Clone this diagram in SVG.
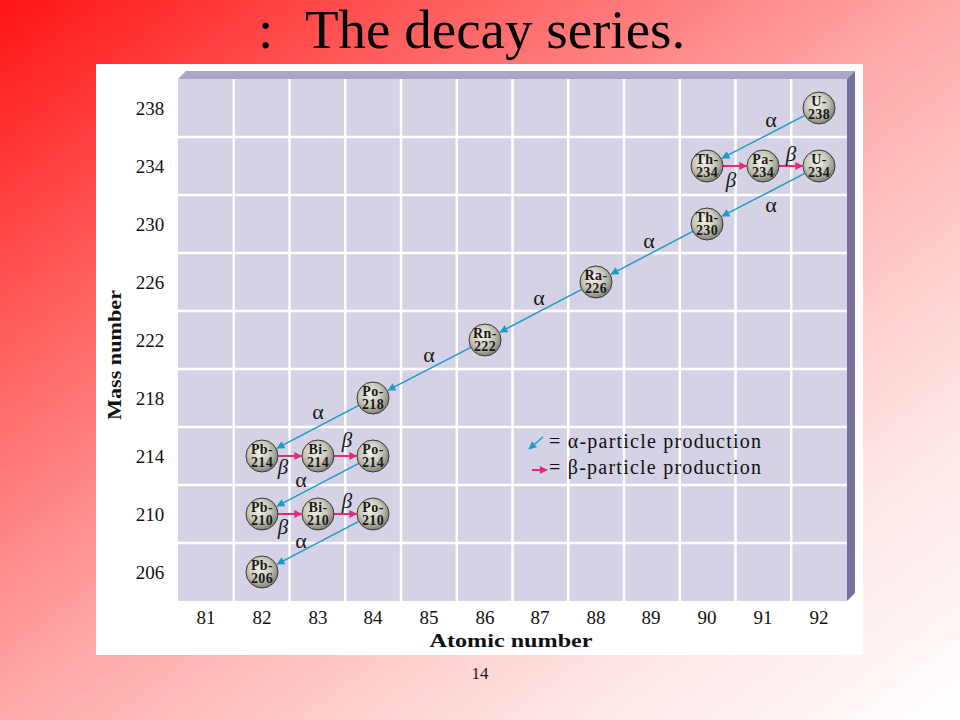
<svg xmlns="http://www.w3.org/2000/svg" width="960" height="720" viewBox="0 0 960 720">
<defs>
<linearGradient id="bg" x1="0" y1="0" x2="1" y2="1">
<stop offset="0" stop-color="#ff1414"/>
<stop offset="0.25" stop-color="#ff6262"/>
<stop offset="0.5" stop-color="#ffaaaa"/>
<stop offset="0.78" stop-color="#ffe4e4"/>
<stop offset="1" stop-color="#ffffff"/>
</linearGradient>
<radialGradient id="ball" cx="0.42" cy="0.38" r="0.62">
<stop offset="0" stop-color="#f4f3ea"/>
<stop offset="0.55" stop-color="#c9c8bb"/>
<stop offset="1" stop-color="#85847a"/>
</radialGradient>
<marker id="ha" viewBox="0 0 10 10" refX="9" refY="5" markerWidth="10" markerHeight="8" markerUnits="userSpaceOnUse" orient="auto">
<path d="M0,0 L10,5 L0,10 z" fill="#1e9cc8"/>
</marker>
<marker id="hb" viewBox="0 0 10 10" refX="9" refY="5" markerWidth="10" markerHeight="8" markerUnits="userSpaceOnUse" orient="auto">
<path d="M0,0 L10,5 L0,10 z" fill="#e22a7f"/>
</marker>
<style>
.tick{font-family:"Liberation Serif",serif;font-size:19px;fill:#111;text-anchor:middle}
.ax{font-family:"Liberation Serif",serif;font-size:19px;font-weight:bold;fill:#111;text-anchor:middle}
.nd circle{fill:url(#ball);stroke:#3a3a36;stroke-width:1}
.nd text{font-family:"Liberation Serif",serif;font-size:14px;font-weight:bold;fill:#1a1a1a;text-anchor:middle;letter-spacing:0.4px}
.a{stroke:#1e9cc8;stroke-width:1.5;fill:none;marker-end:url(#ha)}
.b{stroke:#e22a7f;stroke-width:2;fill:none;marker-end:url(#hb)}
.al{font-family:"Liberation Serif",serif;font-size:22px;fill:#1a1a1a;text-anchor:middle}
.bl{font-family:"Liberation Serif",serif;font-size:21px;font-style:italic;fill:#1a1a1a;text-anchor:middle}
.gl{stroke:#ffffff;stroke-width:2.5}
.lg{font-family:"Liberation Serif",serif;font-size:20px;fill:#111}
</style>
</defs>
<rect width="960" height="720" fill="url(#bg)"/>
<text x="258" y="48" font-family="Liberation Serif,serif" font-size="55" fill="#000">:<tspan x="305">The decay series.</tspan></text>
<rect x="96" y="64" width="767" height="591" fill="#ffffff"/>
<g id="chart">
<polygon points="178,79 186,71 855,71 847,79" fill="#aba6c9"/>
<polygon points="847,79 855,71 855,593 847,601" fill="#77709f"/>
<rect x="178" y="79" width="669" height="522" fill="#d4d2e4"/>
<g class="gl">
<line x1="233.75" y1="79" x2="233.75" y2="601"/>
<line x1="289.5" y1="79" x2="289.5" y2="601"/>
<line x1="345.25" y1="79" x2="345.25" y2="601"/>
<line x1="401" y1="79" x2="401" y2="601"/>
<line x1="456.75" y1="79" x2="456.75" y2="601"/>
<line x1="512.5" y1="79" x2="512.5" y2="601"/>
<line x1="568.25" y1="79" x2="568.25" y2="601"/>
<line x1="624" y1="79" x2="624" y2="601"/>
<line x1="679.75" y1="79" x2="679.75" y2="601"/>
<line x1="735.5" y1="79" x2="735.5" y2="601"/>
<line x1="791.25" y1="79" x2="791.25" y2="601"/>
<line x1="178" y1="137" x2="847" y2="137"/>
<line x1="178" y1="195" x2="847" y2="195"/>
<line x1="178" y1="253" x2="847" y2="253"/>
<line x1="178" y1="311" x2="847" y2="311"/>
<line x1="178" y1="369" x2="847" y2="369"/>
<line x1="178" y1="427" x2="847" y2="427"/>
<line x1="178" y1="485" x2="847" y2="485"/>
<line x1="178" y1="543" x2="847" y2="543"/>
</g>
</g>
<g id="y-axis">
<text class="tick" x="150" y="115">238</text>
<text class="tick" x="150" y="173">234</text>
<text class="tick" x="150" y="231">230</text>
<text class="tick" x="150" y="289">226</text>
<text class="tick" x="150" y="347">222</text>
<text class="tick" x="150" y="405">218</text>
<text class="tick" x="150" y="463">214</text>
<text class="tick" x="150" y="521">210</text>
<text class="tick" x="150" y="579">206</text>
<text class="ax" transform="translate(121,355) rotate(-90)" textLength="130" lengthAdjust="spacingAndGlyphs">Mass number</text>
</g>
<g id="x-axis">
<text class="tick" x="206" y="624">81</text>
<text class="tick" x="262" y="624">82</text>
<text class="tick" x="318" y="624">83</text>
<text class="tick" x="373" y="624">84</text>
<text class="tick" x="429" y="624">85</text>
<text class="tick" x="485" y="624">86</text>
<text class="tick" x="540" y="624">87</text>
<text class="tick" x="596" y="624">88</text>
<text class="tick" x="651" y="624">89</text>
<text class="tick" x="707" y="624">90</text>
<text class="tick" x="763" y="624">91</text>
<text class="tick" x="819" y="624">92</text>
<text class="ax" x="511" y="647" textLength="163" lengthAdjust="spacingAndGlyphs">Atomic number</text>
</g>
<g id="connectors">
<line class="a" x1="804.8" y1="115.4" x2="722.1" y2="158.2"/>
<line class="a" x1="804.8" y1="173.4" x2="722.1" y2="216.2"/>
<line class="a" x1="692.8" y1="231.4" x2="611.1" y2="274.1"/>
<line class="a" x1="581.8" y1="289.4" x2="500.1" y2="332.1"/>
<line class="a" x1="470.8" y1="347.4" x2="388.1" y2="390.2"/>
<line class="a" x1="358.8" y1="405.4" x2="277.1" y2="448.1"/>
<line class="a" x1="358.8" y1="463.4" x2="277.1" y2="506.1"/>
<line class="a" x1="358.8" y1="521.4" x2="277.1" y2="564.1"/>
<line class="b" x1="723" y1="166" x2="746.5" y2="166"/>
<line class="b" x1="779" y1="166" x2="802.5" y2="166"/>
<line class="b" x1="278" y1="456" x2="301.5" y2="456"/>
<line class="b" x1="334" y1="456" x2="356.5" y2="456"/>
<line class="b" x1="278" y1="514" x2="301.5" y2="514"/>
<line class="b" x1="334" y1="514" x2="356.5" y2="514"/>
<text class="al" x="771" y="127">α</text>
<text class="al" x="771" y="212">α</text>
<text class="al" x="649" y="248">α</text>
<text class="al" x="539" y="305">α</text>
<text class="al" x="429" y="362">α</text>
<text class="al" x="318" y="419">α</text>
<text class="al" x="301" y="487">α</text>
<text class="al" x="301" y="548">α</text>
<text class="bl" x="731" y="187">β</text>
<text class="bl" x="791" y="161">β</text>
<text class="bl" x="283" y="474">β</text>
<text class="bl" x="347" y="447">β</text>
<text class="bl" x="283" y="534">β</text>
<text class="bl" x="347" y="508">β</text>
</g>
<g id="n-U238" class="nd"><circle cx="819" cy="108" r="16"/><text x="819" y="106">U-<tspan x="819" dy="13">238</tspan></text></g>
<g id="n-Th234" class="nd"><circle cx="707" cy="166" r="16"/><text x="707" y="164">Th-<tspan x="707" dy="13">234</tspan></text></g>
<g id="n-Pa234" class="nd"><circle cx="763" cy="166" r="16"/><text x="763" y="164">Pa-<tspan x="763" dy="13">234</tspan></text></g>
<g id="n-U234" class="nd"><circle cx="819" cy="166" r="16"/><text x="819" y="164">U-<tspan x="819" dy="13">234</tspan></text></g>
<g id="n-Th230" class="nd"><circle cx="707" cy="224" r="16"/><text x="707" y="222">Th-<tspan x="707" dy="13">230</tspan></text></g>
<g id="n-Ra226" class="nd"><circle cx="596" cy="282" r="16"/><text x="596" y="280">Ra-<tspan x="596" dy="13">226</tspan></text></g>
<g id="n-Rn222" class="nd"><circle cx="485" cy="340" r="16"/><text x="485" y="338">Rn-<tspan x="485" dy="13">222</tspan></text></g>
<g id="n-Po218" class="nd"><circle cx="373" cy="398" r="16"/><text x="373" y="396">Po-<tspan x="373" dy="13">218</tspan></text></g>
<g id="n-Pb214" class="nd"><circle cx="262" cy="456" r="16"/><text x="262" y="454">Pb-<tspan x="262" dy="13">214</tspan></text></g>
<g id="n-Bi214" class="nd"><circle cx="318" cy="456" r="16"/><text x="318" y="454">Bi-<tspan x="318" dy="13">214</tspan></text></g>
<g id="n-Po214" class="nd"><circle cx="373" cy="456" r="16"/><text x="373" y="454">Po-<tspan x="373" dy="13">214</tspan></text></g>
<g id="n-Pb210" class="nd"><circle cx="262" cy="514" r="16"/><text x="262" y="512">Pb-<tspan x="262" dy="13">210</tspan></text></g>
<g id="n-Bi210" class="nd"><circle cx="318" cy="514" r="16"/><text x="318" y="512">Bi-<tspan x="318" dy="13">210</tspan></text></g>
<g id="n-Po210" class="nd"><circle cx="373" cy="514" r="16"/><text x="373" y="512">Po-<tspan x="373" dy="13">210</tspan></text></g>
<g id="n-Pb206" class="nd"><circle cx="262" cy="572" r="16"/><text x="262" y="570">Pb-<tspan x="262" dy="13">206</tspan></text></g>
<g id="legend">
<line class="a" x1="543" y1="437" x2="529" y2="449"/>
<line class="b" x1="532" y1="470" x2="547" y2="470"/>
<text class="lg" x="549" y="448" textLength="212" lengthAdjust="spacing">= α-particle production</text>
<text class="lg" x="549" y="474" textLength="212" lengthAdjust="spacing">= β-particle production</text>
</g>
<text x="480" y="679" font-family="Liberation Serif,serif" font-size="17" fill="#222" text-anchor="middle">14</text>
</svg>
